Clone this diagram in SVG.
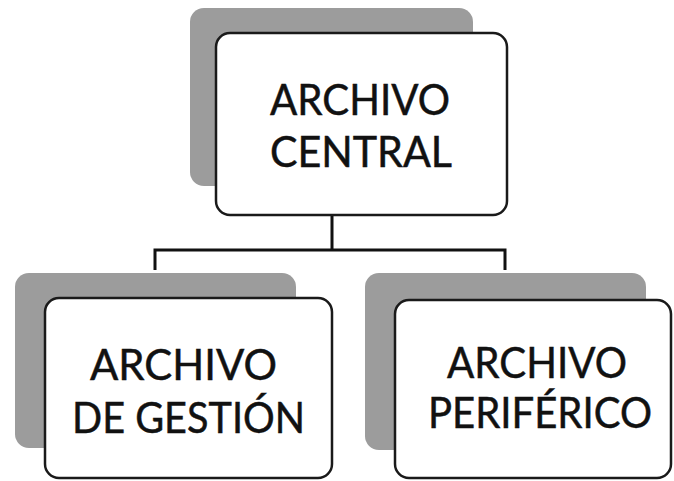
<svg xmlns="http://www.w3.org/2000/svg" width="674" height="481" viewBox="0 0 674 481">
<style>
.shadow{fill:#9c9c9c}
.box{fill:#ffffff;stroke:#1a1a1a;stroke-width:2.5}
.t{font-family:Lato,"Open Sans","Liberation Sans",sans-serif;font-size:42px;fill:#111;stroke:#111;stroke-width:0.5;text-anchor:start}
.conn{fill:none;stroke:#111;stroke-width:3}
</style>
<rect width="674" height="481" fill="#ffffff"/>
<g id="connectors">
<path class="conn" d="M332 215 V250 M155 250 H505 M155 248.5 V270 M505 248.5 V270"/>
</g>
<g id="archivo-central">
<rect class="shadow" x="190" y="8" width="283" height="178" rx="14"/>
<rect class="box" x="216" y="33" width="291" height="182" rx="14"/>
<text class="t" x="270" y="115" textLength="180" lengthAdjust="spacingAndGlyphs">ARCHIVO</text>
<text class="t" x="270" y="167" textLength="182" lengthAdjust="spacingAndGlyphs">CENTRAL</text>
</g>
<g id="archivo-gestion">
<rect class="shadow" x="15" y="273" width="281" height="175" rx="14"/>
<rect class="box" x="45" y="298" width="287" height="180" rx="14"/>
<text class="t" x="90" y="380" textLength="187" lengthAdjust="spacingAndGlyphs">ARCHIVO</text>
<text class="t" x="72" y="433" textLength="233" lengthAdjust="spacingAndGlyphs">DE GESTIÓN</text>
</g>
<g id="archivo-periferico">
<rect class="shadow" x="365" y="273" width="281" height="177" rx="14"/>
<rect class="box" x="395" y="300" width="276" height="178" rx="14"/>
<text class="t" x="447" y="378" textLength="180" lengthAdjust="spacingAndGlyphs">ARCHIVO</text>
<text class="t" x="428" y="428" textLength="224" lengthAdjust="spacingAndGlyphs">PERIFÉRICO</text>
</g>
</svg>
